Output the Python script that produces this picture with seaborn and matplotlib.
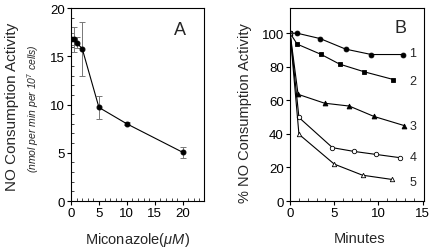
import numpy as np
import pandas as pd
import matplotlib
matplotlib.use("Agg")
import matplotlib.pyplot as plt
from matplotlib.ticker import MultipleLocator
import seaborn as sns

# Panel A data
mic_conc = [0, 0.5, 1, 2, 5, 10, 20]
mic_activity = [16.8, 16.75, 16.4, 15.8, 9.7, 8.0, 5.05]
mic_err = [0.6, 1.3, 0.55, 2.8, 1.2, 0.15, 0.6]

# Panel B data
s1_x = [0, 0.8, 3.4, 6.3, 9.2, 12.8]
s1_y = [100, 100, 96.8, 90.5, 87.3, 87.3]
s2_x = [0, 0.8, 3.5, 5.6, 8.4, 11.7]
s2_y = [100, 93.5, 87.4, 81.6, 77.0, 72.4]
s3_x = [0, 0.9, 3.9, 6.7, 9.5, 12.9]
s3_y = [100, 63.6, 58.3, 56.6, 50.4, 45.0]
s4_x = [0, 1.0, 4.8, 7.2, 9.7, 12.5]
s4_y = [100, 49.8, 31.8, 29.6, 27.8, 25.8]
s5_x = [0, 1.0, 5.0, 8.2, 11.5]
s5_y = [100, 39.8, 22.0, 15.4, 12.9]
series_labels = ["1", "2", "3", "4", "5"]
label_y = [88, 71.5, 44.7, 26.3, 11.2]

sns.set_style("ticks")
plt.rcParams["font.family"] = ["Liberation Sans", "DejaVu Sans"]
plt.rcParams["mathtext.fontset"] = "custom"
plt.rcParams["mathtext.it"] = "Liberation Sans:italic"
plt.rcParams["mathtext.rm"] = "Liberation Sans"

fig = plt.figure(figsize=(4.33, 2.51), dpi=100)
axA = fig.add_axes([0.164, 0.195, 0.307, 0.769])
axB = fig.add_axes([0.670, 0.195, 0.310, 0.769])

lw = 0.8
# Panel A
dfA = pd.DataFrame({"x": mic_conc, "y": mic_activity})
axA.errorbar(mic_conc, mic_activity, yerr=mic_err, fmt="none", ecolor="#777777",
             elinewidth=0.7, capsize=2.0, capthick=0.7, zorder=1)
sns.lineplot(data=dfA, x="x", y="y", ax=axA, color="black", lw=lw, marker="o",
             markersize=3.5, markeredgecolor="black", markerfacecolor="black", zorder=2)
axA.set_xlim(0, 23.8)
axA.set_ylim(0, 20)
axA.xaxis.set_major_locator(MultipleLocator(5))
axA.xaxis.set_minor_locator(MultipleLocator(1))
axA.yaxis.set_major_locator(MultipleLocator(5))
axA.yaxis.set_minor_locator(MultipleLocator(1))
axA.set_xlabel("")
axA.set_ylabel("")
axA.text(0.82, 0.89, "A", transform=axA.transAxes, fontsize=13, ha="center", va="center")

# Panel B
series = [
    (s1_x, s1_y, "o", "black"),
    (s2_x, s2_y, "s", "black"),
    (s3_x, s3_y, "^", "black"),
    (s4_x, s4_y, "o", "white"),
    (s5_x, s5_y, "^", "white"),
]
for (xs, ys, mk, fc), lab, ly in zip(series, series_labels, label_y):
    df = pd.DataFrame({"x": xs, "y": ys})
    sns.lineplot(data=df, x="x", y="y", ax=axB, color="black", lw=lw, marker=mk,
                 markersize=3.5 if fc == "black" else 3.2, markeredgecolor="black",
                 markerfacecolor=fc, markeredgewidth=0.6)
    axB.text(13.9, ly, lab, fontsize=9, ha="center", va="center")
axB.set_xlim(0, 15.2)
axB.set_ylim(0, 115)
axB.xaxis.set_major_locator(MultipleLocator(5))
axB.xaxis.set_minor_locator(MultipleLocator(1))
axB.yaxis.set_major_locator(MultipleLocator(20))
axB.set_xlabel("")
axB.set_ylabel("")
axB.text(0.82, 0.90, "B", transform=axB.transAxes, fontsize=13, ha="center", va="center")

for ax in (axA, axB):
    for sp in ax.spines.values():
        sp.set_visible(True)
        sp.set_linewidth(0.8)
        sp.set_color("black")
    ax.tick_params(which="major", direction="out", length=3, width=0.8, labelsize=9.5, pad=1.5, colors="black")
    ax.tick_params(which="minor", direction="in", length=2, width=0.6)
    ax.tick_params(axis="x", which="both", top=False)
    ax.tick_params(axis="y", which="both", right=False)

fig.text(0.317, 0.045, r"Miconazole$\mathit{(\mu M)}$", fontsize=10.5, ha="center", va="center")
fig.text(0.83, 0.048, "Minutes", fontsize=10.5, ha="center", va="center")
fig.text(0.028, 0.574, "NO Consumption Activity", fontsize=11, rotation=90, ha="center", va="center")
fig.text(0.076, 0.566, r"(nmol per min per 10$^{7}$ cells)", fontsize=7.5, style="italic",
         rotation=90, ha="center", va="center")
fig.text(0.566, 0.55, "% NO Consumption Activity", fontsize=10.5, rotation=90, ha="center", va="center")

fig.savefig("out.png", dpi=100)
